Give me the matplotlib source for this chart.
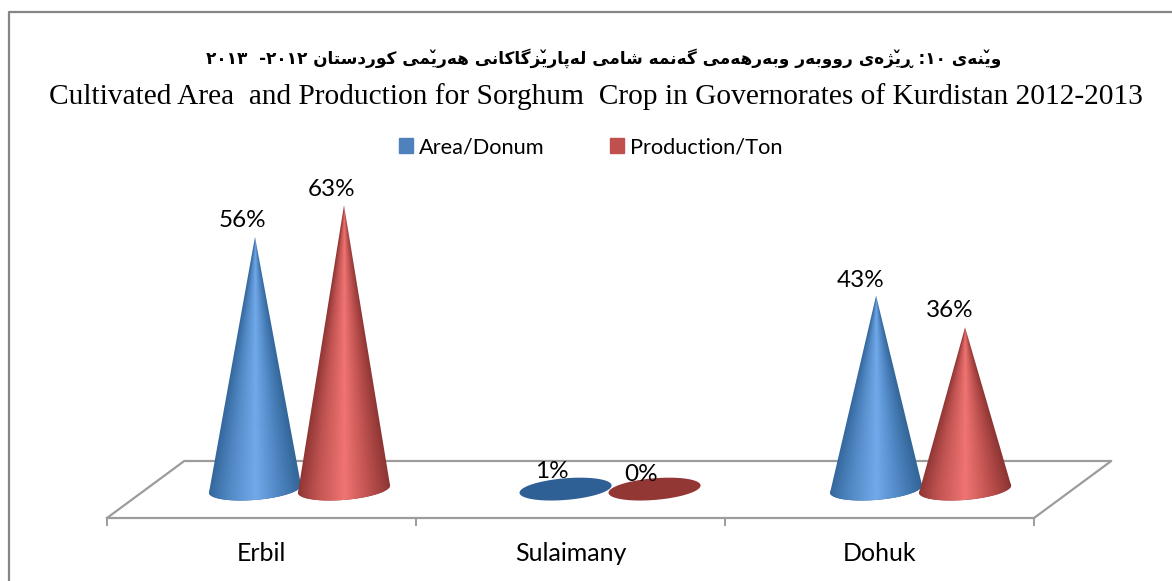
import numpy as np
import matplotlib
matplotlib.use("Agg")
import matplotlib.pyplot as plt
from matplotlib.patches import Patch, PathPatch
from matplotlib.path import Path
from matplotlib.colors import LinearSegmentedColormap

categories = ["Erbil", "Sulaimany", "Dohuk"]
area_pct = [56, 1, 43]
production_pct = [63, 0, 36]
series_names = ["Area/Donum", "Production/Ton"]

title_en = "Cultivated Area  and Production for Sorghum  Crop in Governorates of Kurdistan 2012-2013"
# words in reading order, the numbers already in the order they show on the page
title_ku = ["وێنەی", ":١٠", "ڕێژەی", "رووبەر", "وبەرهەمی", "گەنمە", "شامی",
            "لەپارێزگاکانی", "هەرێمی", "کوردستان", " -٢٠١٢", "٢٠١٣"]

# (isolated, final, initial, medial), matplotlib does no arabic shaping by itself
FORMS = {
    "ب": "\uFE8F\uFE90\uFE91\uFE92", "پ": "\uFB56\uFB57\uFB58\uFB59",
    "ت": "\uFE95\uFE96\uFE97\uFE98", "س": "\uFEB1\uFEB2\uFEB3\uFEB4",
    "ش": "\uFEB5\uFEB6\uFEB7\uFEB8", "ک": "\uFB8E\uFB8F\uFB90\uFB91",
    "گ": "\uFB92\uFB93\uFB94\uFB95", "ل": "\uFEDD\uFEDE\uFEDF\uFEE0",
    "م": "\uFEE1\uFEE2\uFEE3\uFEE4", "ن": "\uFEE5\uFEE6\uFEE7\uFEE8",
    "ه": "\uFEE9\uFEEA\uFEEB\uFEEC", "ی": "\uFBFC\uFBFD\uFBFE\uFBFF",
    "ێ": "\uFBFC\uFBFD\uFBFE\uFBFF",
    "ا": "\uFE8D\uFE8E", "د": "\uFEA9\uFEAA", "ر": "\uFEAD\uFEAE",
    "ز": "\uFEAF\uFEB0", "ژ": "\uFB8A\uFB8B", "و": "\uFEED\uFEEE",
    "ە": "\uFEE9\uFEEA", "ڕ": "\u0695\u0695",
}


def shape_word(word):
    if word[-1] not in FORMS:
        return word
    out = []
    for i, ch in enumerate(word):
        forms = FORMS[ch]
        before = i > 0 and len(FORMS[word[i - 1]]) == 4
        after = i < len(word) - 1 and len(forms) == 4
        g = forms[int(before) + 2 * int(after) if len(forms) == 4 else int(before)]
        # 0 iso, 1 final, 2 initial, 3 medial
        if ch == "ێ":
            g = g + "\u030C"
        out.append(g)
    return "".join(reversed(out))


def shape_line(words):
    return " ".join(shape_word(w) for w in reversed(words))


def draw_cone(ax, x, value, colors, flat):
    hw, b, s = 0.149, 2.4, 0.8
    t = np.linspace(0, 2 * np.pi, 120)
    ex = x + hw * np.cos(t)
    ey = 0.2 + b * np.sin(t) + s * np.cos(t)
    ax.fill(ex, ey, color=flat, lw=0, zorder=3)
    if value < 5:
        return
    low = np.linspace(np.pi, 2 * np.pi, 60)
    px = np.r_[x, x + hw * np.cos(low)]
    py = np.r_[value, 0.2 + b * np.sin(low) + s * np.cos(low)]
    path = Path(np.c_[px, py])
    cmap = LinearSegmentedColormap.from_list("c", list(zip([0, 0.2, 0.5, 0.78, 1], colors)))
    # shading follows the cone, so it narrows towards the tip
    gx, gy = np.meshgrid(np.linspace(x - hw, x + hw, 240), np.linspace(-5, value, 500))
    half = hw * np.clip((value - gy) / value, 0.002, 1)
    u = np.clip((gx - x) / half, -1, 1)
    im = ax.imshow((u + 1) / 2, cmap=cmap, aspect="auto", origin="lower", vmin=0, vmax=1,
                   extent=(x - hw, x + hw, -5, value), zorder=3, interpolation="bilinear")
    clip = PathPatch(path, transform=ax.transData, fc="none", ec="none")
    ax.add_patch(clip)
    im.set_clip_path(clip)


def main():
    fig = plt.figure(figsize=(11.72, 5.81), dpi=100)
    W, H = 1172.0, 581.0
    ax = fig.add_axes([107 / W, (H - 518) / H, 927 / W, 348 / H])
    ppy = 4.52
    ax.patch.set_visible(False)

    blue = ["#34679c", "#4f86c2", "#72a9ea", "#4b82be", "#326597"]
    red = ["#8f3634", "#bf5351", "#f07472", "#bb4f4d", "#8c3533"]
    width = 0.144
    shift = 0.123
    slot = 1.005
    grey = "#9c9c9c"

    # floor of the 3d plot
    y0, y1 = -28 / ppy, 29 / ppy
    ax.plot([-0.5, -0.5 + 0.25, 2.5 + 0.25, 2.5], [y0, y1, y1, y0],
            color=grey, lw=1.6, clip_on=False, zorder=1)

    # label nudges in points, they sit up and left of the tips
    area_off = [(-9, 12), (-10, 10), (-11, 11)]
    prod_off = [(-9, 11), (-10, 11), (-11, 12)]
    for i in range(len(categories)):
        xa = i * slot + shift - width
        xp = i * slot + shift + width
        draw_cone(ax, xa, area_pct[i], blue, "#2e6096")
        draw_cone(ax, xp, production_pct[i], red, "#933735")
        ax.annotate(f"{area_pct[i]}%", (xa, area_pct[i]), xytext=area_off[i],
                    textcoords="offset points", ha="center", va="center",
                    fontsize=17.5, zorder=5, annotation_clip=False)
        ax.annotate(f"{production_pct[i]}%", (xp, production_pct[i]), xytext=prod_off[i],
                    textcoords="offset points", ha="center", va="center",
                    fontsize=17.5, zorder=5, annotation_clip=False)

    ax.set_xlim(-0.5, 2.5)
    ax.set_ylim(y0, y0 + 348 / ppy)
    ax.set_yticks([])
    ax.set_xticks(range(3))
    ax.set_xticklabels(categories, fontsize=18)
    ax.tick_params(axis="x", which="major", length=0, pad=17.5)
    ax.set_xticks([-0.5, 0.5, 1.5, 2.5], minor=True)
    ax.tick_params(axis="x", which="minor", length=5.5, width=1.4, color=grey)
    for name, sp in ax.spines.items():
        sp.set_visible(name == "bottom")
    ax.spines["bottom"].set_color(grey)
    ax.spines["bottom"].set_linewidth(1.6)

    handles = [Patch(color="#4f81bd"), Patch(color="#c0504d")]
    fig.legend(handles, series_names, loc="center", bbox_to_anchor=(591 / W, 1 - 147 / H), ncol=2,
               frameon=False, fontsize=15.7, handlelength=0.64, handleheight=0.64,
               handletextpad=0.27, columnspacing=3.0)

    fig.text(596 / W, 1 - 97 / H, title_en, family="Liberation Serif", fontsize=21.2,
             ha="center", va="center")
    fig.text(604 / W, 1 - 58 / H, shape_line(title_ku), family="DejaVu Sans", weight="bold",
             fontsize=12.2, ha="center", va="center")

    # chart frame, only top and left fall inside the crop
    fig.add_artist(plt.Line2D([9 / W, 9 / W, 1], [0, 1 - 12 / H, 1 - 12 / H], color="#868686", lw=1.6))
    fig.savefig("out.png", dpi=100)


plt.rcParams["font.family"] = ["Lato", "DejaVu Sans"]

if __name__ == "__main__":
    main()
